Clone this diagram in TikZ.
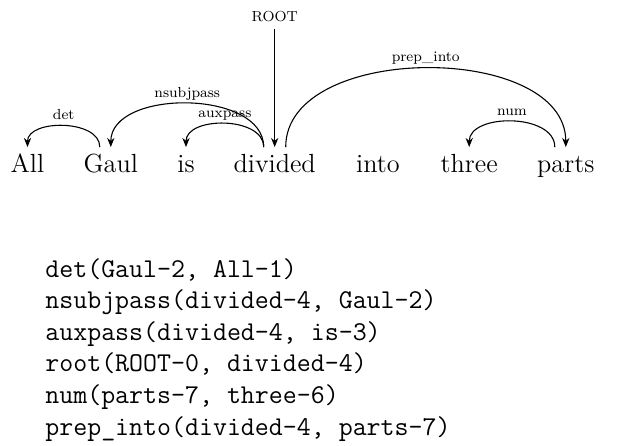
\documentclass[tikz,border=0pt]{standalone}
\usepackage{tikz}
\usetikzlibrary{arrows.meta}
\tikzset{%
  word/.style={
    font=\Large,
    anchor=base,
    inner sep=3.5pt,
    text height=10pt
  },
  dep label/.style={
    font=\footnotesize,
    inner sep=1pt,
    text height=1.5ex,
    text depth=.25ex,
    above=1.2pt
  },
  dep arc/.style={semithick, ->},
  dep line/.style={
    font=\fontsize{14.9}{18}\selectfont\ttfamily,
    anchor=base west,
    inner sep=0pt
  },
}

\begin{document}
\begin{tikzpicture}[> = {Stealth[length=5pt, width=4pt, inset=1.6pt]}, x=0.0193cm, y=-0.0193cm]
\useasboundingbox (0,0) rectangle (634,445);
% the sentence
\node[word] (all)     at (27.5,172)  {All};
\node[word] (gaul)    at (110.8,172) {Gaul};
\node[word] (is)      at (186,172)   {is};
\node[word] (divided) at (274.7,172) {divided};
\node[word] (into)    at (378,172)   {into};
\node[word] (three)   at (469.2,172) {three};
\node[word] (parts)   at (565.8,172) {parts};

\node[font=\footnotesize] (root) at (274.7,17) {ROOT};

% dependencies
\draw[dep arc] (root) -- (divided.north);
\draw[dep arc] ([shift={(-11,0)}]gaul.north) .. controls +(0,-28) and +(0,-28) .. (all.north)
    node[dep label, midway] {det};
\draw[dep arc] ([shift={(-11,0)}]divided.north) .. controls +(0,-58) and +(0,-58) .. (gaul.north)
    node[dep label, midway] {nsubjpass};
\draw[dep arc] ([shift={(-11,0)}]divided.north) .. controls +(0,-31) and +(0,-31) .. (is.north)
    node[dep label, midway] {auxpass};
\draw[dep arc] ([shift={(11,0)}]divided.north) .. controls +(0,-105) and +(0,-105) .. (parts.north)
    node[dep label, midway] {prep\_into};
\draw[dep arc] ([shift={(-11,0)}]parts.north) .. controls +(0,-34) and +(0,-34) .. (three.north)
    node[dep label, midway] {num};

% typed dependency list
\foreach \i/\t in {1/{det(Gaul-2, All-1)},
                   2/{nsubjpass(divided-4, Gaul-2)},
                   3/{auxpass(divided-4, is-3)},
                   4/{root(ROOT-0, divided-4)},
                   5/{num(parts-7, three-6)},
                   6/{prep\_into(divided-4, parts-7)}}
    \node[dep line] (line\i) at (45,{277+31.6*(\i-1)}) {\t};
\end{tikzpicture}
\end{document}
